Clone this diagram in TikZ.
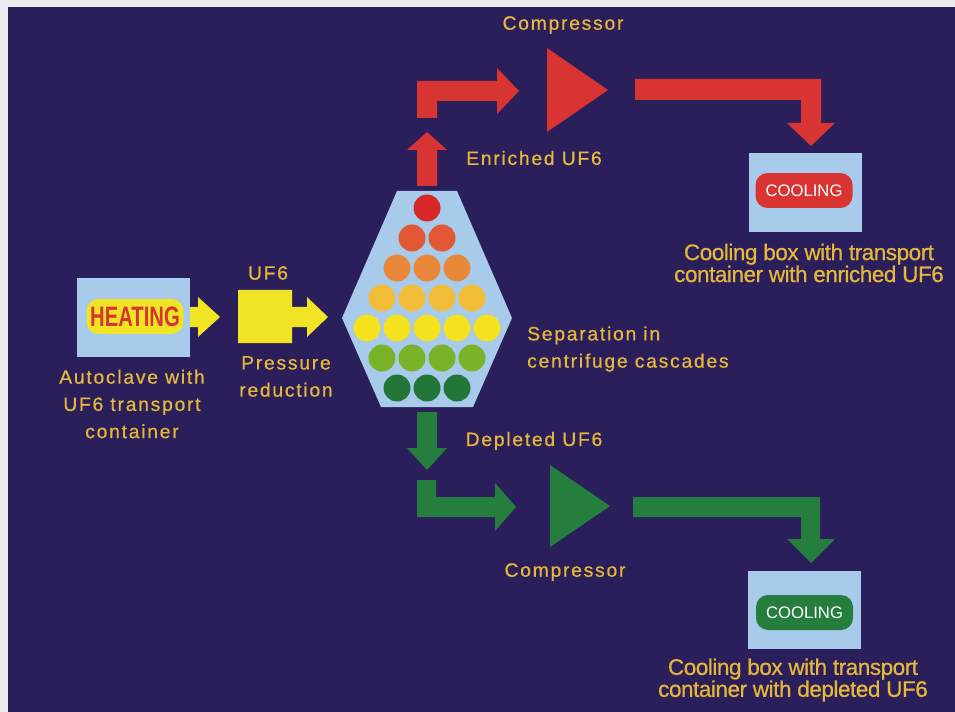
\documentclass[tikz,border=0pt]{standalone}
\usepackage{fontspec}
\setmainfont{Liberation Sans}
\newfontfamily\spacedfont[LetterSpace=9,FakeBold=0.6]{Liberation Sans}
\newfontfamily\tightfont[LetterSpace=-2,FakeBold=0.6]{Liberation Sans}
\usepackage{graphicx}
\usepackage{tikz}

\definecolor{bgnavy}{RGB}{42,31,90}
\definecolor{frame}{RGB}{236,236,240}
\definecolor{boxblue}{RGB}{168,202,235}
\definecolor{arryellow}{RGB}{240,228,36}
\definecolor{arrred}{RGB}{216,52,50}
\definecolor{arrgreen}{RGB}{38,126,62}
\definecolor{goldtxt}{RGB}{230,184,58}
\definecolor{rowa}{RGB}{214,40,40}
\definecolor{rowb}{RGB}{226,88,52}
\definecolor{rowc}{RGB}{234,136,58}
\definecolor{rowd}{RGB}{242,190,58}
\definecolor{rowe}{RGB}{244,226,30}
\definecolor{rowf}{RGB}{122,178,40}
\definecolor{rowg}{RGB}{34,118,56}

\tikzset{
  lightbox/.style={fill=boxblue,minimum width=2.26cm,minimum height=1.58cm,inner sep=0pt},
  pill/.style={rounded corners=0.24cm,minimum width=1.94cm,minimum height=0.7cm,inner sep=0pt},
  goldtext/.style={text=goldtxt,font=\spacedfont\fontsize{11}{15.5}\selectfont,align=center},
  coolcap/.style={text=goldtxt,font=\tightfont\fontsize{12.8}{12.5}\selectfont,align=center}
}

\begin{document}
\begin{tikzpicture}[x=0.02cm,y=-0.02cm]
\useasboundingbox (0,0) rectangle (955,712);
\fill[frame] (0,0) rectangle (955,712);
\fill[bgnavy] (8,7) rectangle (955,712);

% autoclave and pressure reduction
\node[lightbox] (autoclave) at (133.5,317.5) {};
\node[pill,fill=arryellow] (heating) at (135,316.5) {\scalebox{0.72}[1]{\fontsize{16}{16}\selectfont\bfseries\color{arrred}HEATING}};
\fill[arryellow] (190,307) -- (198,307) -- (198,297) -- (220,317) -- (198,337) -- (198,327) -- (190,327) -- cycle;
\fill[arryellow] (238,290) -- (292,290) -- (292,307) -- (307,307) -- (307,297) -- (328,317) -- (307,337) -- (307,327) -- (292,327) -- (292,343) -- (238,343) -- cycle;
\node[goldtext] (uf6) at (268,273) {UF6};
\node[goldtext] (pressure) at (286,376.5) {Pressure\\reduction};
\node[goldtext] (autolabel) at (132,404) {Autoclave with\\UF6 transport\\container};

% centrifuge cascades
\fill[boxblue] (397,191) -- (457,191) -- (512,318) -- (473,407) -- (381,407) -- (342,318) -- cycle;
\foreach \n/\y/\c in {1/208/rowa,2/238/rowb,3/268/rowc,4/298/rowd,5/328/rowe,4/358/rowf,3/388/rowg}{
\foreach \i in {1,...,\n}{
\fill[\c] (427+30*\i-15*\n-15,\y) circle (13.5);
}
}
\node[goldtext,align=left,anchor=west] (separation) at (521,349) {Separation in\\centrifuge cascades};

% enriched branch
\fill[arrred] (417,186) -- (417,150) -- (407,150) -- (427,132) -- (447,150) -- (437,150) -- (437,186) -- cycle;
\fill[arrred] (417,118) -- (417,81) -- (497,81) -- (497,68) -- (519,91) -- (497,114) -- (497,101) -- (437,101) -- (437,118) -- cycle;
\fill[arrred] (547,48) -- (608,90) -- (547,132) -- cycle;
\fill[arrred] (635,79) -- (821,79) -- (821,123) -- (835,123) -- (811,146) -- (787,123) -- (801,123) -- (801,100) -- (635,100) -- cycle;
\node[goldtext] (comptop) at (563,25) {Compressor};
\node[goldtext] (enriched) at (534,158) {Enriched UF6};
\node[lightbox] (cooltop) at (805,192.5) {};
\node[pill,fill=arrred,text=white,font=\fontsize{9.5}{9.5}\selectfont] (coolred) at (804,190.5) {COOLING};
\node[coolcap] (cooltoplabel) at (809,263) {Cooling box with transport\\container with enriched UF6};

% depleted branch
\fill[arrgreen] (417,412) -- (437,412) -- (437,448) -- (447,448) -- (427,470) -- (407,448) -- (417,448) -- cycle;
\fill[arrgreen] (417,480) -- (436,480) -- (436,497) -- (495,497) -- (495,483) -- (516,507) -- (495,531) -- (495,517) -- (417,517) -- cycle;
\fill[arrgreen] (550,465) -- (610,506) -- (550,547) -- cycle;
\fill[arrgreen] (633,497) -- (820,497) -- (820,539) -- (835,539) -- (811,563) -- (787,539) -- (801,539) -- (801,517) -- (633,517) -- cycle;
\node[goldtext] (depleted) at (534,441) {Depleted UF6};
\node[goldtext] (compbot) at (565,572) {Compressor};
\node[lightbox] (coolbot) at (804.5,610) {};
\node[pill,fill=arrgreen,text=white,font=\fontsize{9.5}{9.5}\selectfont] (coolgreen) at (804.5,612.5) {COOLING};
\node[coolcap] (coolbotlabel) at (793,680) {Cooling box with transport\\container with depleted UF6};
\end{tikzpicture}
\end{document}
